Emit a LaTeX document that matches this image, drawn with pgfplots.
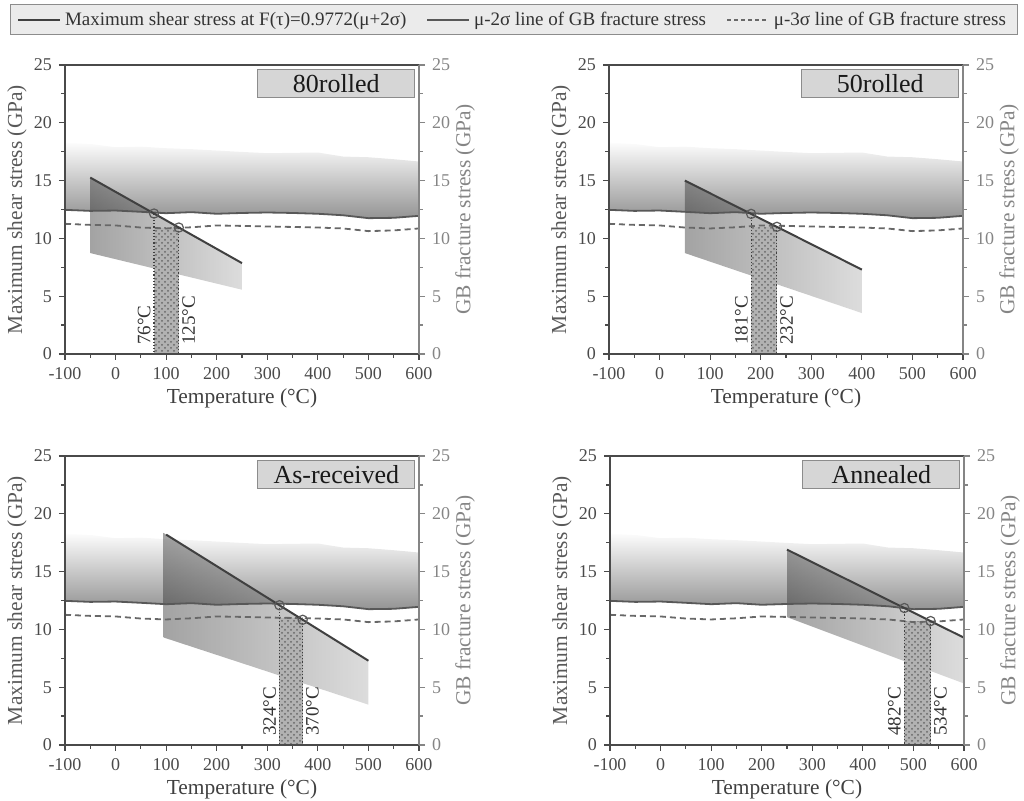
\documentclass[border=0pt]{standalone}
\usepackage{fontspec}
\setmainfont{Liberation Serif}
\usepackage{pgfplots}
\pgfplotsset{compat=1.18}
\usetikzlibrary{patterns}

\definecolor{axc}{HTML}{4A4A4A}
\definecolor{rc}{HTML}{858585}
\definecolor{shearc}{HTML}{404040}
\definecolor{lowc}{HTML}{585858}
\definecolor{dashc}{HTML}{686868}

\newcommand{\band}{%
 \addplot[draw=none, top color=black!1, bottom color=black!42, forget plot] coordinates {
 (-100,18.29) (-50,18.17) (0,17.89) (50,17.94) (100,17.80) (150,17.72) (200,17.60) (250,17.48)
 (300,17.37) (350,17.40) (400,17.43) (450,17.08) (500,17.02) (550,16.85) (600,16.65)
 (600,11.95) (550,11.78) (500,11.75) (450,12.00) (400,12.13) (350,12.20) (300,12.24) (250,12.20)
 (200,12.13) (150,12.27) (100,12.18) (50,12.30) (0,12.41) (-50,12.38) (-100,12.47)} -- cycle;
}
\newcommand{\bandlines}{%
 \addplot[lowc, line width=0.9pt, forget plot] coordinates {
 (-100,12.47) (-50,12.38) (0,12.41) (50,12.30) (100,12.18) (150,12.27) (200,12.13) (250,12.20)
 (300,12.24) (350,12.20) (400,12.13) (450,12.00) (500,11.75) (550,11.78) (600,11.95)};
 \addplot[dashc, line width=0.9pt, dash pattern=on 3pt off 2pt, forget plot] coordinates {
 (-100,11.26) (-50,11.17) (0,11.12) (50,10.94) (100,10.86) (150,10.96) (200,11.12) (250,11.08)
 (300,11.03) (350,10.99) (400,10.94) (450,10.86) (500,10.63) (550,10.69) (600,10.86)};
}

\tikzset{
 tlab/.style={rotate=90, inner sep=1.5pt, font=\fontsize{9.5}{11}\selectfont, text=black!80},
 boxlab/.style={font=\fontsize{13}{15}\selectfont, text=black!90},
}

\pgfplotsset{
 panel/.style={
  scale only axis, width=177pt, height=144.5pt,
  xmin=-100, xmax=600, ymin=0, ymax=25,
  xtick={-100,0,100,200,300,400,500,600},
  ytick={0,5,10,15,20,25},
  minor x tick num=1, minor y tick num=1,
  tick align=outside, major tick length=3pt, minor tick length=1.8pt,
  xtick pos=bottom, ytick pos=left,
  axis line style={axc, line width=0.8pt},
  every tick/.style={axc, line width=0.6pt},
  tick label style={font=\fontsize{9}{10}\selectfont, text=axc},
  /pgf/number format/assume math mode=true,
  xlabel={Temperature (°C)}, ylabel={Maximum shear stress (GPa)},
  label style={font=\fontsize{10.7}{12}\selectfont},
  xlabel style={at={(axis description cs:0.5,-0.152)}, anchor=center, text=black!75},
  ylabel style={at={(axis description cs:-0.136,0.5)}, anchor=center, text=black!65},
  axis on top,
 },
 rpanel/.style={
  scale only axis, width=177pt, height=144.5pt,
  xmin=-100, xmax=600, ymin=0, ymax=25,
  axis x line=none, axis y line*=right,
  ytick={0,5,10,15,20,25}, minor y tick num=1,
  tick align=outside, major tick length=3pt, minor tick length=1.8pt,
  axis line style={rc, line width=0.8pt},
  every tick/.style={rc, line width=0.6pt},
  tick label style={font=\fontsize{9}{10}\selectfont, text=rc},
  /pgf/number format/assume math mode=true,
  ylabel={GB fracture stress (GPa)},
  label style={font=\fontsize{10.7}{12}\selectfont},
  ylabel style={at={(axis description cs:1.13,0.5)}, anchor=center, text=rc},
 },
 shearpoly/.style={draw=none, left color=black!80, right color=black!30, fill opacity=0.45, forget plot},
 hatchfill/.style={draw=none, fill=black!30, forget plot},
 hatchpat/.style={draw=none, pattern=crosshatch dots, pattern color=black!60, forget plot},
 vdot/.style={black!75, densely dotted, line width=0.6pt, forget plot},
 shearline/.style={shearc, line width=1pt, forget plot},
 circ/.style={only marks, mark=o, mark size=2.3pt, black!65, mark options={line width=0.6pt}, forget plot},
}

\begin{document}
\begin{tikzpicture}
\useasboundingbox (0pt,0pt) rectangle (512pt,-400.5pt);
\draw[black!45, fill=black!8, line width=0.5pt] (5pt,-2.5pt) rectangle (508.5pt,-17.5pt);

% ---------- Panel 1: 80rolled ----------
\begin{axis}[panel, at={(32.5pt,-177pt)}, anchor=south west,
  legend style={at={(axis description cs:1.2669,1.1557)}, anchor=center, draw=none, fill=none,
    legend columns=3, font=\fontsize{9.5}{11}\selectfont, text=black!80,
    /tikz/every even column/.append style={column sep=8pt}},
  legend image code/.code={\draw[#1] (0pt,0pt) -- (21pt,0pt);}]
\addlegendimage{shearc, line width=1pt}\addlegendentry{Maximum shear stress at F(τ)=0.9772(μ+2σ)}
\addlegendimage{lowc, line width=0.9pt}\addlegendentry{μ-2σ line of GB fracture stress}
\addlegendimage{dashc, line width=0.9pt, dash pattern=on 2pt off 1.5pt}\addlegendentry{μ-3σ line of GB fracture stress}
\band
\addplot[shearpoly] coordinates {(-50,8.73) (-50,15.26) (250,7.86) (250,5.56)} -- cycle;
\addplot[hatchfill] coordinates {(76,0) (76,10.9) (125,10.9) (125,0)} -- cycle;
\addplot[hatchpat] coordinates {(76,0) (76,10.9) (125,10.9) (125,0)} -- cycle;
\bandlines
\addplot[shearline] coordinates {(-50,15.26) (250,7.86)};
\addplot[vdot] coordinates {(76,12.15) (76,0)};
\addplot[vdot] coordinates {(125,10.94) (125,0)};
\addplot[circ] coordinates {(76,12.15) (125,10.94)};
\node[tlab, anchor=south west] at (axis cs:76,0.5) {76°C};
\node[tlab, anchor=north west] at (axis cs:125,0.5) {125°C};
\draw[black!45, fill=black!16, line width=0.5pt] (axis cs:281,22.2) rectangle (axis cs:592,24.6);
\node[boxlab] at (axis cs:436.5,23.4) {80rolled};
\end{axis}
\begin{axis}[rpanel, at={(32.5pt,-177pt)}, anchor=south west]
\end{axis}

% ---------- Panel 2: 50rolled ----------
\begin{axis}[panel, at={(304.5pt,-177pt)}, anchor=south west]
\band
\addplot[shearpoly] coordinates {(50,8.73) (50,15.0) (400,7.3) (400,3.54)} -- cycle;
\addplot[hatchfill] coordinates {(181,0) (181,11.0) (232,11.0) (232,0)} -- cycle;
\addplot[hatchpat] coordinates {(181,0) (181,11.0) (232,11.0) (232,0)} -- cycle;
\bandlines
\addplot[shearline] coordinates {(50,15.0) (400,7.3)};
\addplot[vdot] coordinates {(181,12.12) (181,0)};
\addplot[vdot] coordinates {(232,11.0) (232,0)};
\addplot[circ] coordinates {(181,12.12) (232,11.0)};
\node[tlab, anchor=south west] at (axis cs:181,0.5) {181°C};
\node[tlab, anchor=north west] at (axis cs:232,0.5) {232°C};
\draw[black!45, fill=black!16, line width=0.5pt] (axis cs:281,22.2) rectangle (axis cs:592,24.6);
\node[boxlab] at (axis cs:436.5,23.4) {50rolled};
\end{axis}
\begin{axis}[rpanel, at={(304.5pt,-177pt)}, anchor=south west]
\end{axis}

% ---------- Panel 3: As-received ----------
\begin{axis}[panel, at={(32.5pt,-372.5pt)}, anchor=south west]
\band
\addplot[shearpoly] coordinates {(95,9.3) (95,18.34) (500,7.29) (500,3.49)} -- cycle;
\addplot[hatchfill] coordinates {(324,0) (324,11.0) (370,11.0) (370,0)} -- cycle;
\addplot[hatchpat] coordinates {(324,0) (324,11.0) (370,11.0) (370,0)} -- cycle;
\bandlines
\addplot[shearline] coordinates {(100,18.2) (500,7.29)};
\addplot[vdot] coordinates {(324,12.09) (324,0)};
\addplot[vdot] coordinates {(370,10.83) (370,0)};
\addplot[circ] coordinates {(324,12.09) (370,10.83)};
\node[tlab, anchor=south west] at (axis cs:324,0.5) {324°C};
\node[tlab, anchor=north west] at (axis cs:370,0.5) {370°C};
\draw[black!45, fill=black!16, line width=0.5pt] (axis cs:281,22.2) rectangle (axis cs:592,24.6);
\node[boxlab] at (axis cs:436.5,23.4) {As-received};
\end{axis}
\begin{axis}[rpanel, at={(32.5pt,-372.5pt)}, anchor=south west]
\end{axis}

% ---------- Panel 4: Annealed ----------
\begin{axis}[panel, at={(305pt,-372.5pt)}, anchor=south west]
\band
\addplot[shearpoly] coordinates {(250,11.06) (250,16.9) (600,9.28) (600,5.32)} -- cycle;
\addplot[hatchfill] coordinates {(482,0) (482,10.72) (534,10.72) (534,0)} -- cycle;
\addplot[hatchpat] coordinates {(482,0) (482,10.72) (534,10.72) (534,0)} -- cycle;
\bandlines
\addplot[shearline] coordinates {(250,16.9) (600,9.28)};
\addplot[vdot] coordinates {(482,11.85) (482,0)};
\addplot[vdot] coordinates {(534,10.72) (534,0)};
\addplot[circ] coordinates {(482,11.85) (534,10.72)};
\node[tlab, anchor=south west] at (axis cs:482,0.5) {482°C};
\node[tlab, anchor=north west] at (axis cs:534,0.5) {534°C};
\draw[black!45, fill=black!16, line width=0.5pt] (axis cs:281,22.2) rectangle (axis cs:592,24.6);
\node[boxlab] at (axis cs:436.5,23.4) {Annealed};
\end{axis}
\begin{axis}[rpanel, at={(305pt,-372.5pt)}, anchor=south west]
\end{axis}
\end{tikzpicture}
\end{document}
